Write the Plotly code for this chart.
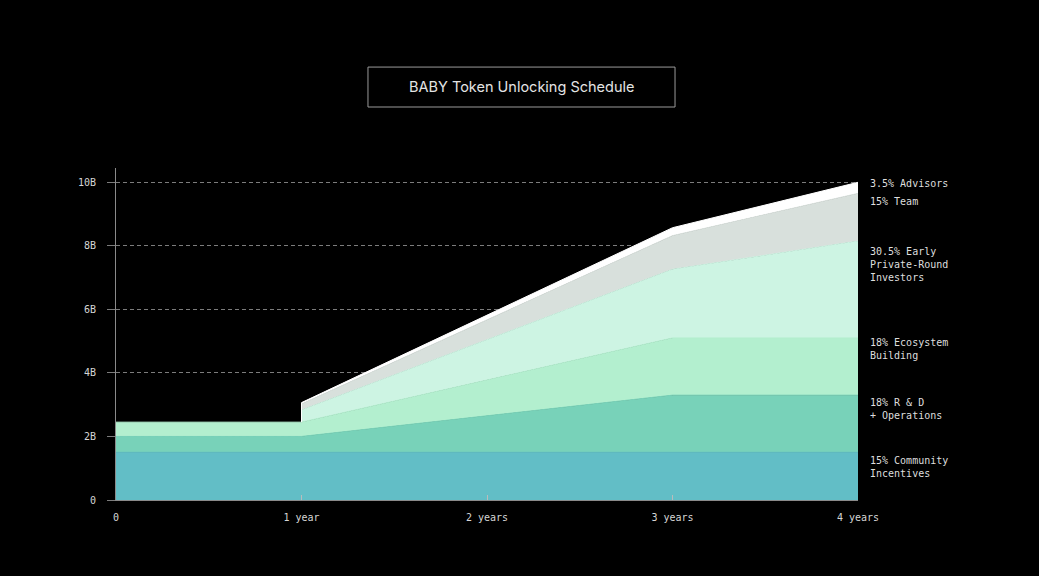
import numpy as np
import plotly.graph_objects as go

# ---- data (billions of BABY tokens unlocked, per allocation) ----
x_years = [0, 1, 1, 3, 4]
community = [1.5, 1.5, 1.5, 1.5, 1.5]
rnd = [0.5, 0.5, 0.5, 1.8, 1.8]
ecosystem = [0.45, 0.45, 0.45, 1.8, 1.8]
investors = [0.0, 0.0, 0.38, 2.16, 3.05]
team = [0.0, 0.0, 0.19, 1.06, 1.5]
advisors = [0.0, 0.0, 0.045, 0.25, 0.35]

series_names = ["15% Community Incentives", "18% R & D + Operations", "18% Ecosystem Building",
                "30.5% Early Private-Round Investors", "15% Team", "3.5% Advisors"]
series_labels = ["15% Community<br>Incentives", "18% R & D<br>+ Operations", "18% Ecosystem<br>Building",
                 "30.5% Early<br>Private-Round<br>Investors", "15% Team", "3.5% Advisors"]
label_y = [1.03, 2.85, 4.75, 7.41, 9.4, 9.97]
colors = ["#62bec6", "#78d2b9", "#b3efcf", "#cdf4e3", "#d8e0dc", "#ffffff"]

tick_vals_x = [0, 1, 2, 3, 4]
tick_text_x = ["0", "1 year", "2 years", "3 years", "4 years"]
tick_vals_y = [0, 2, 4, 6, 8, 10]
tick_text_y = ["0", "2B", "4B", "6B", "8B", "10B"]

series = [community, rnd, ecosystem, investors, team, advisors]
cum = np.cumsum(np.array(series), axis=0)
xs = np.array(x_years)

MONO = "DejaVu Sans Mono, Liberation Mono, monospace"

fig = go.Figure()
for i, (name, col) in enumerate(zip(series_names, colors)):
    s = series[i]
    # layers that only start unlocking at the cliff are drawn from the cliff onward
    start = 1 if (s[0] == 0 and s[1] == 0) else 0
    fig.add_trace(go.Scatter(
        x=xs[start:], y=cum[i][start:], name=name, mode="lines",
        line=dict(width=1, color=col),
        fill="tozeroy" if i == 0 else "tonexty",
        fillcolor=col, hoverinfo="skip", showlegend=False,
    ))

for txt, yv in zip(series_labels, label_y):
    fig.add_annotation(x=1, xref="paper", y=yv, yref="y", text=txt,
                       xanchor="left", yanchor="middle", xshift=10, align="left",
                       showarrow=False, font=dict(family=MONO, size=10, color="#dedede"))

# title box
fig.add_shape(type="rect", xref="paper", yref="paper",
              x0=0.3396, x1=0.7534, y0=1.1837, y1=1.304,
              line=dict(color="#9a9a9a", width=1), fillcolor="rgba(0,0,0,0)")
fig.add_annotation(x=0.5465, xref="paper", y=1.244, yref="paper",
                   text="BABY Token Unlocking Schedule", showarrow=False,
                   xanchor="center", yanchor="middle",
                   font=dict(family="Inter, Roboto, sans-serif", size=14.5, color="#e4e4e4"))

fig.update_layout(
    width=1039, height=576,
    paper_bgcolor="#000000", plot_bgcolor="#000000",
    margin=dict(l=116, r=181, t=168, b=76),
    xaxis=dict(range=[0, 4], tickvals=tick_vals_x, ticktext=tick_text_x,
               showgrid=False, zeroline=False, showline=True, linecolor="#8a8a8a", linewidth=1,
               ticks="inside", ticklen=5, tickcolor="#bbbbbb", tickwidth=1,
               ticklabelstandoff=8,
               tickfont=dict(family=MONO, size=10, color="#d6d6d6"), fixedrange=True),
    yaxis=dict(range=[0, 10.45], tickvals=tick_vals_y, ticktext=tick_text_y,
               showgrid=True, gridcolor="#7c7c7c", griddash="4px,3px", gridwidth=1,
               zeroline=False, showline=True, linecolor="#8a8a8a", linewidth=1,
               ticks="outside", ticklen=8, tickcolor="#7c7c7c", tickwidth=1,
               ticklabelstandoff=9,
               tickfont=dict(family=MONO, size=10, color="#d6d6d6"), fixedrange=True),
)

fig.write_html("out.html")
